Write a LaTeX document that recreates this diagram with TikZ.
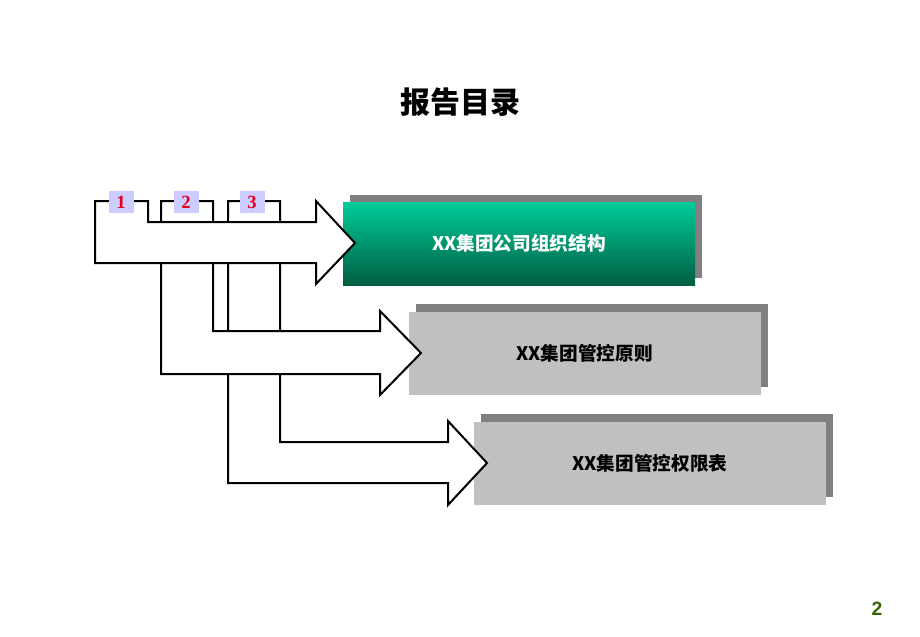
\documentclass[tikz,border=0pt]{standalone}
\usepackage{fontspec}
\setmainfont{Liberation Serif}
\newfontfamily\cjk{Noto Sans CJK SC}
\newfontfamily\pagefont{Liberation Sans}
\usetikzlibrary{shadows}

\definecolor{boxgray}{RGB}{192,192,192}
\definecolor{shadowgray}{RGB}{128,128,128}
\definecolor{greentop}{RGB}{0,204,153}
\definecolor{greenbot}{RGB}{0,94,66}
\definecolor{tablav}{RGB}{204,204,255}
\definecolor{tabred}{RGB}{230,0,30}
\definecolor{pagegreen}{RGB}{51,102,0}

\tikzset{every picture/.style={line width=0.75pt}}
\tikzset{
	topicbox/.style={minimum width=264pt, minimum height=62.25pt, inner sep=0pt,
		font=\cjk\bfseries\fontsize{14}{16}\selectfont,
		general shadow={fill=shadowgray, shadow xshift=5.6pt, shadow yshift=5.6pt}},
	bentarrow/.style={draw=black, fill=white, line width=1.5pt, line join=miter},
	numtab/.style={fill=tablav, minimum width=18.75pt, minimum height=16.5pt, inner sep=0pt,
		text=tabred, font=\bfseries\fontsize{14}{14}\selectfont}
}

\begin{document}
\begin{tikzpicture}[x=0.75pt,y=0.75pt,yscale=-1,xscale=1]
	\path [use as bounding box] (0,0) rectangle (920,636); %page 920 x 636

	%Shape: Rectangle [box3]
	\node [topicbox, fill=boxgray] (box3) at (650,463) {XX集团管控权限表};
	%Shape: Rectangle [box2]
	\node [topicbox, fill=boxgray] (box2) at (584.5,353) {XX集团管控原则};
	%Shape: Rectangle [box1]
	\node [topicbox, top color=greentop, bottom color=greenbot, text=white] (box1) at (519,243.5) {XX集团公司组织结构};

	%Bent Arrow [arr3]
	\draw [bentarrow] (228,201) -- (280,201) -- (280,442) -- (448,442) -- (448,421) -- (487,463) -- (448,505) -- (448,483) -- (228,483) -- cycle ;
	%Bent Arrow [arr2]
	\draw [bentarrow] (161,201) -- (213,201) -- (213,331) -- (380,331) -- (380,311) -- (421,353) -- (380,395) -- (380,374) -- (161,374) -- cycle ;
	%Bent Arrow [arr1]
	\draw [bentarrow] (95,201) -- (148,201) -- (148,222) -- (316,222) -- (316,201) -- (355,243) -- (316,284) -- (316,263) -- (95,263) -- cycle ;

	% Tabs
	\node [numtab] (tab1) at (121,202) {1};
	\node [numtab] (tab2) at (186,202) {2};
	\node [numtab] (tab3) at (252,202) {3};

	% Text Node
	\node [font=\cjk\bfseries\fontsize{22.5}{26}\selectfont] (title) at (460,102) {报告目录};
	% Text Node
	\node [text=pagegreen, font=\pagefont\bfseries\fontsize{14.5}{16}\selectfont] (pagenum) at (877,609) {2};

\end{tikzpicture}
\end{document}
